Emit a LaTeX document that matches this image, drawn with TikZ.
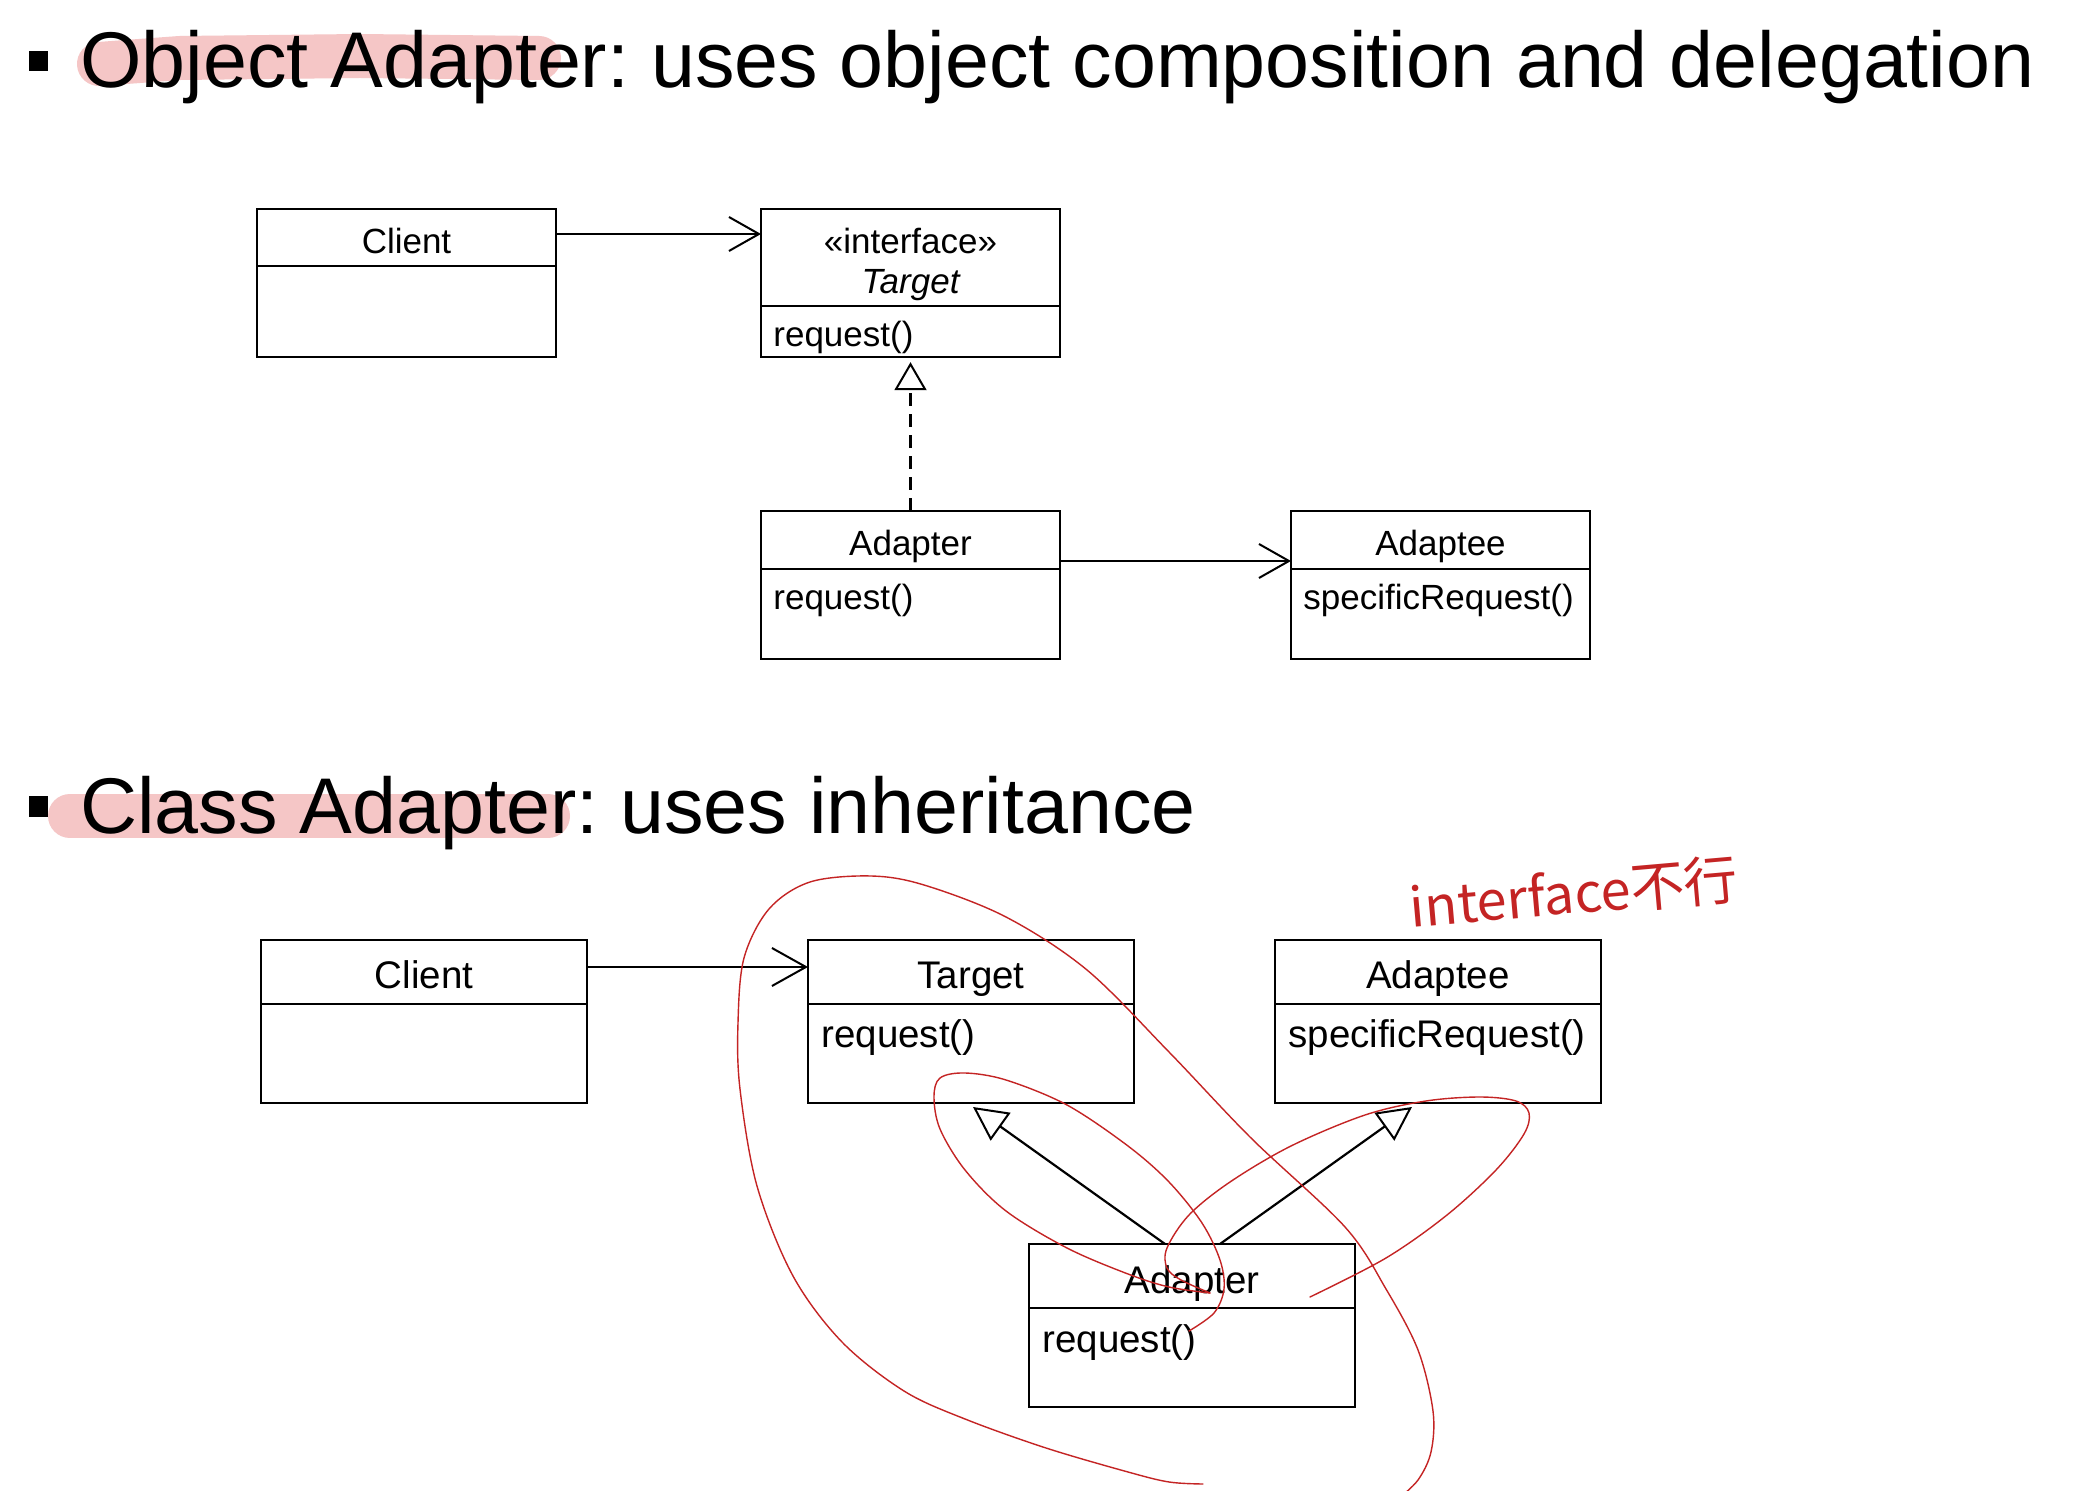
\documentclass[tikz,border=0pt]{standalone}
\usepackage{fontspec}
\setmainfont{Liberation Sans}
\newfontfamily\cjkfont{Noto Sans CJK SC}
\usetikzlibrary{arrows.meta,calc}
\definecolor{hlpink}{RGB}{245,198,198}
\definecolor{inkred}{RGB}{196,36,36}
\frenchspacing
\begin{document}
\begin{tikzpicture}[x=0.5pt,y=-0.5pt,
  cls/.style={draw=black, line width=1.2pt, inner sep=0pt, outer sep=0pt, anchor=north west},
  topcls/.style={cls, minimum width=149.5pt, minimum height=74pt},
  botcls/.style={cls, minimum width=163pt, minimum height=81.5pt},
  divider/.style={line width=1.2pt},
  toptxt/.style={font=\fontsize{17.5}{20}\selectfont, inner sep=0pt, anchor=base},
  topmeth/.style={toptxt, anchor=base west},
  bottxt/.style={font=\fontsize{19.25}{22}\selectfont, inner sep=0pt, anchor=base},
  botmeth/.style={bottxt, anchor=base west},
  titletxt/.style={font=\fontsize{39.5}{45}\selectfont, anchor=base west, inner sep=0pt},
  hl/.style={draw=hlpink, line width=22pt, line cap=round, line join=round},
  assoctop/.style={line width=1.1pt, -{Straight Barb[length=15pt,width=17pt,line width=1pt]}},
  assocbot/.style={line width=1.1pt, -{Straight Barb[length=17pt,width=19pt,line width=1pt]}},
  realize/.style={line width=1.1pt, dash pattern=on 6.5pt off 4pt, -{Triangle[open,length=14pt,width=16pt,line width=1pt]}, shorten >=2.6pt},
  inherit/.style={line width=1.1pt, -{Triangle[open,length=17pt,width=17pt,line width=1pt]}},
  ink/.style={draw=inkred, line width=0.7pt, line cap=round, line join=round}
]
\useasboundingbox (0,0) rectangle (2085,1491);
\fill[white] (0,0) rectangle (2085,1491);

% highlights
\draw[hl] (99,64) -- (180,58) -- (360,56) -- (539,58);
\draw[hl] (70,816) -- (548,816);

% titles
\fill[black] (29,51) rectangle (48,71);
\node[titletxt] (title1) at (80,88) {Object Adapter: uses object composition and delegation};
\fill[black] (29,796) rectangle (48,817);
\node[titletxt] (title2) at (80,834) {Class Adapter: uses inheritance};

% ---------- top diagram ----------
\node[topcls] (client1) at (257,209) {};
\draw[divider] ($(client1.north west)+(0,57)$) -- ($(client1.north east)+(0,57)$);
\node[toptxt] (client1n) at ($(client1.north)+(0,45)$) {Client};

\node[topcls] (target1) at (761,209) {};
\draw[divider] ($(target1.north west)+(0,97)$) -- ($(target1.north east)+(0,97)$);
\node[toptxt] (target1s) at ($(target1.north)+(0,45)$) {«interface»};
\node[toptxt] (target1n) at ($(target1.north)+(0,85)$) {\itshape Target};
\node[topmeth] (target1m) at ($(target1.north west)+(12,138)$) {request()};

\node[topcls] (adapter1) at (761,511) {};
\draw[divider] ($(adapter1.north west)+(0,58)$) -- ($(adapter1.north east)+(0,58)$);
\node[toptxt] (adapter1n) at ($(adapter1.north)+(0,45)$) {Adapter};
\node[topmeth] (adapter1m) at ($(adapter1.north west)+(12,99)$) {request()};

\node[topcls] (adaptee1) at (1291,511) {};
\draw[divider] ($(adaptee1.north west)+(0,58)$) -- ($(adaptee1.north east)+(0,58)$);
\node[toptxt] (adaptee1n) at ($(adaptee1.north)+(0,45)$) {Adaptee};
\node[topmeth] (adaptee1m) at ($(adaptee1.north west)+(12,99)$) {specificRequest()};

\coordinate (c1a) at ($(client1.north east)+(0,25)$);
\coordinate (t1a) at ($(target1.north west)+(0,25)$);
\draw[assoctop] (c1a) -- (t1a);
\coordinate (a1a) at ($(adapter1.north east)+(0,50)$);
\coordinate (ad1a) at ($(adaptee1.north west)+(0,50)$);
\draw[assoctop] (a1a) -- (ad1a);
\draw[realize] (adapter1.north) -- (target1.south);

% ---------- bottom diagram ----------
\node[botcls] (client2) at (261,940) {};
\draw[divider] ($(client2.north west)+(0,64)$) -- ($(client2.north east)+(0,64)$);
\node[bottxt] (client2n) at ($(client2.north)+(0,49)$) {Client};

\node[botcls] (target2) at (808,940) {};
\draw[divider] ($(target2.north west)+(0,64)$) -- ($(target2.north east)+(0,64)$);
\node[bottxt] (target2n) at ($(target2.north)+(0,49)$) {Target};
\node[botmeth] (target2m) at ($(target2.north west)+(13,108)$) {request()};

\node[botcls] (adaptee2) at (1275,940) {};
\draw[divider] ($(adaptee2.north west)+(0,64)$) -- ($(adaptee2.north east)+(0,64)$);
\node[bottxt] (adaptee2n) at ($(adaptee2.north)+(0,49)$) {Adaptee};
\node[botmeth] (adaptee2m) at ($(adaptee2.north west)+(13,108)$) {specificRequest()};

\node[botcls] (adapter2) at (1029,1244) {};
\draw[divider] ($(adapter2.north west)+(0,64)$) -- ($(adapter2.north east)+(0,64)$);
\node[bottxt] (adapter2n) at ($(adapter2.north)+(0,49)$) {Adapter};
\node[botmeth] (adapter2m) at ($(adapter2.north west)+(13,108)$) {request()};

\coordinate (c2a) at ($(client2.north east)+(0,27)$);
\coordinate (t2a) at ($(target2.north west)+(0,27)$);
\draw[assocbot] (c2a) -- (t2a);
\coordinate (a2l) at ($(adapter2.north)+(-27,0)$);
\coordinate (t2tip) at ($(target2.south)+(2,4)$);
\draw[inherit] (a2l) -- (t2tip);
\coordinate (a2r) at ($(adapter2.north)+(28,0)$);
\coordinate (ad2tip) at ($(adaptee2.south)+(-26,4)$);
\draw[inherit] (a2r) -- (ad2tip);

% ---------- handwritten annotations ----------
\node[text=inkred, font=\cjkfont\fontsize{27}{30}\selectfont, rotate=5, inner sep=0pt] (note) at (1574,893) {interface不行};

\draw[ink] plot[smooth, tension=0.55] coordinates {(1203,1484) (1169,1482) (1128,1472) (1046,1448) (965,1419) (904,1391) (842,1342) (793,1276) (757,1186) (740,1089) (738,1023) (744,958) (769,909) (810,882) (871,876) (924,885) (1006,917) (1087,970) (1169,1052) (1251,1138) (1345,1227) (1386,1289) (1418,1350) (1433,1411) (1431,1452) (1418,1480) (1398,1499)};

\draw[ink] plot[smooth, tension=0.55] coordinates {(1189,1331) (1214,1313) (1224,1289) (1220,1260) (1202,1223) (1169,1182) (1128,1146) (1067,1105) (1006,1080) (965,1073) (940,1078) (934,1097) (940,1129) (965,1170) (1006,1211) (1067,1248) (1128,1274) (1169,1287) (1210,1293)};

\draw[ink] plot[smooth, tension=0.55] coordinates {(1310,1297) (1386,1258) (1447,1215) (1496,1170) (1524,1134) (1529,1113) (1516,1101) (1480,1097) (1426,1101) (1365,1115) (1291,1146) (1230,1182) (1189,1215) (1167,1248) (1167,1268) (1181,1280) (1210,1293)};
\end{tikzpicture}
\end{document}
